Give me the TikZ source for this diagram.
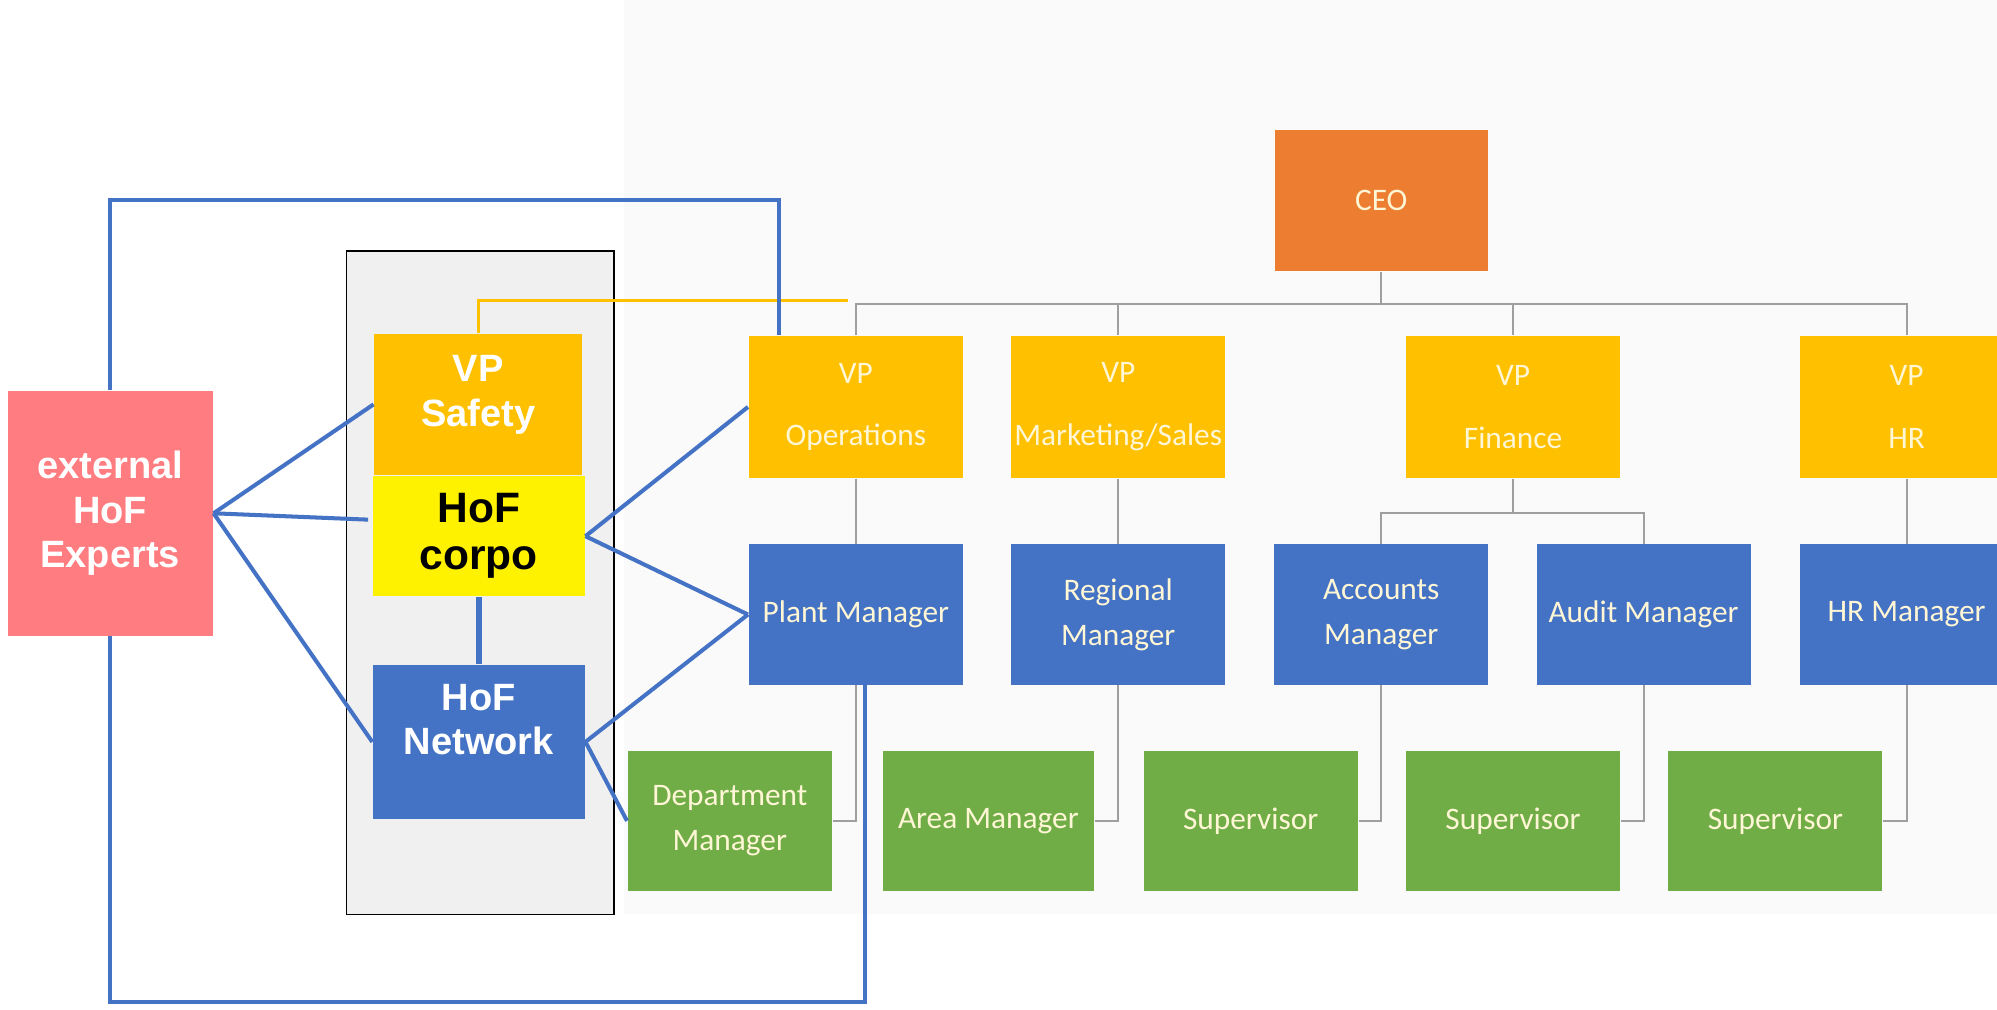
\documentclass[tikz,border=0pt]{standalone}
\usepackage{fontspec}
\setmainfont{Liberation Sans}
\newfontfamily\orgfont{Carlito}
\usepackage{xcolor}
\definecolor{hofblue}{HTML}{4472C4}
\definecolor{hoforange}{HTML}{FFC000}
\definecolor{hofpink}{HTML}{FF7C80}
\definecolor{ceoorange}{HTML}{ED7D31}
\definecolor{orggreen}{HTML}{70AD47}
\definecolor{orgtext}{HTML}{FFF6D5}

\begin{document}
\begin{tikzpicture}[%
	hof/.style={rectangle, align=center, inner sep=0pt, text=white,
		font=\fontsize{8.5}{10}\selectfont\bfseries},
	org/.style={rectangle, align=center, inner sep=0pt, minimum width=1.68cm,
		minimum height=1.10cm, text=orgtext, font=\orgfont\fontsize{7}{10}\selectfont},
	vp/.style={org, fill=hoforange, minimum height=1.11cm,
		font=\orgfont\fontsize{7}{14}\selectfont},
	mgr/.style={org, fill=hofblue},
	wrk/.style={org, fill=orggreen},
	orgline/.style={draw=gray!75, line width=0.4pt},
	hofline/.style={draw=hofblue, line width=0.9pt}]
	\clip (0,0) rectangle (15.68,-7.93);
	\fill[gray!4] (4.90,0) rectangle (15.68,-7.18);

	\node[org, fill=ceoorange, minimum width=1.67cm, minimum height=1.11cm] (ceo) at (10.845,-1.575) {CEO};
	\node[vp] (vpops) at (6.72,-3.195) {VP\\Operations};
	\node[vp] (vpmkt) at (8.78,-3.195) {VP\\Marketing/Sales};
	\node[vp] (vpfin) at (11.88,-3.195) {VP\\Finance};
	\node[vp] (vphr) at (14.97,-3.195) {VP\\HR};
	\node[mgr] (plant) at (6.72,-4.825) {Plant Manager};
	\node[mgr] (regional) at (8.78,-4.825) {Regional\\Manager};
	\node[mgr] (accounts) at (10.845,-4.825) {Accounts\\Manager};
	\node[mgr] (audit) at (12.905,-4.825) {Audit Manager};
	\node[mgr] (hrmgr) at (14.97,-4.825) {HR Manager};
	\node[wrk, minimum width=1.60cm] (dept) at (5.73,-6.445) {Department\\Manager};
	\node[wrk, minimum width=1.66cm] (area) at (7.76,-6.445) {Area Manager};
	\node[wrk] (sup1) at (9.82,-6.445) {Supervisor};
	\node[wrk] (sup2) at (11.88,-6.445) {Supervisor};
	\node[wrk] (sup3) at (13.94,-6.445) {Supervisor};

	\draw[orgline] (ceo.south) -- ++(0,-0.25) coordinate (vpbus);
	\draw[orgline] (vpops.north) -- (vpops.north |- vpbus) -- (vphr.north |- vpbus) -- (vphr.north);
	\draw[orgline] (vpmkt.north) -- (vpmkt.north |- vpbus);
	\draw[orgline] (vpfin.north) -- (vpfin.north |- vpbus);
	\draw[orgline] (vpops) -- (plant);
	\draw[orgline] (vpmkt) -- (regional);
	\draw[orgline] (vphr) -- (hrmgr);
	\draw[orgline] (vpfin.south) -- ++(0,-0.27) coordinate (finbus);
	\draw[orgline] (accounts.north) |- (finbus) -| (audit.north);
	\draw[orgline] (plant.south) |- (dept.east);
	\draw[orgline] (regional.south) |- (area.east);
	\draw[orgline] (accounts.south) |- (sup1.east);
	\draw[orgline] (audit.south) |- (sup2.east);
	\draw[orgline] (hrmgr.south) |- (sup3.east);

	\node[draw=black, fill=gray!12, minimum width=2.10cm, minimum height=5.21cm, inner sep=0pt] (hofgroup) at (3.77,-4.575) {};
	\node[hof, fill=hoforange, minimum width=1.63cm, minimum height=1.11cm] (safety) at (3.755,-3.175) {VP\\Safety\\[-4pt]\mbox{}};
	\node[hof, fill=yellow, text=black, minimum width=1.66cm, minimum height=0.94cm,
		font=\fontsize{9.5}{10.5}\selectfont\bfseries] (corpo) at (3.76,-4.21) {HoF\\corpo};
	\node[hof, fill=hofblue, minimum width=1.66cm, minimum height=1.21cm] (network) at (3.76,-5.825) {HoF\\Network\\\mbox{}};
	\node[hof, fill=hofpink, minimum width=1.61cm, minimum height=1.92cm] (ext) at (0.865,-4.03) {external\\HoF\\Experts};

	\coordinate (safetyend) at (6.66,-2.36);
	\draw[hoforange, line width=0.6pt] (safety.north) |- (safetyend);

	\coordinate (corpoin) at (2.89,-4.08);
	\draw[hofline] (ext.east) -- (safety.west);
	\draw[hofline] (ext.east) -- (corpoin);
	\draw[hofline] (ext.east) -- (network.west);
	\draw[hofline] (corpo.east) -- (vpops.west);
	\draw[hofline] (corpo.east) -- (plant.west);
	\draw[hofline] (network.east) -- (plant.west);
	\draw[hofline] (network.east) -- (dept.west);
	\draw[hofline, line width=1.4pt] (corpo.south) -- (network.north);

	\coordinate (looptop) at (6.12,-1.57);
	\coordinate (loopbot) at (6.79,-7.87);
	\draw[hofline] (ext.north) |- (looptop) -- (looptop |- vpops.north);
	\draw[hofline] (ext.south) |- (loopbot) -- (loopbot |- plant.south);
\end{tikzpicture}
\end{document}
